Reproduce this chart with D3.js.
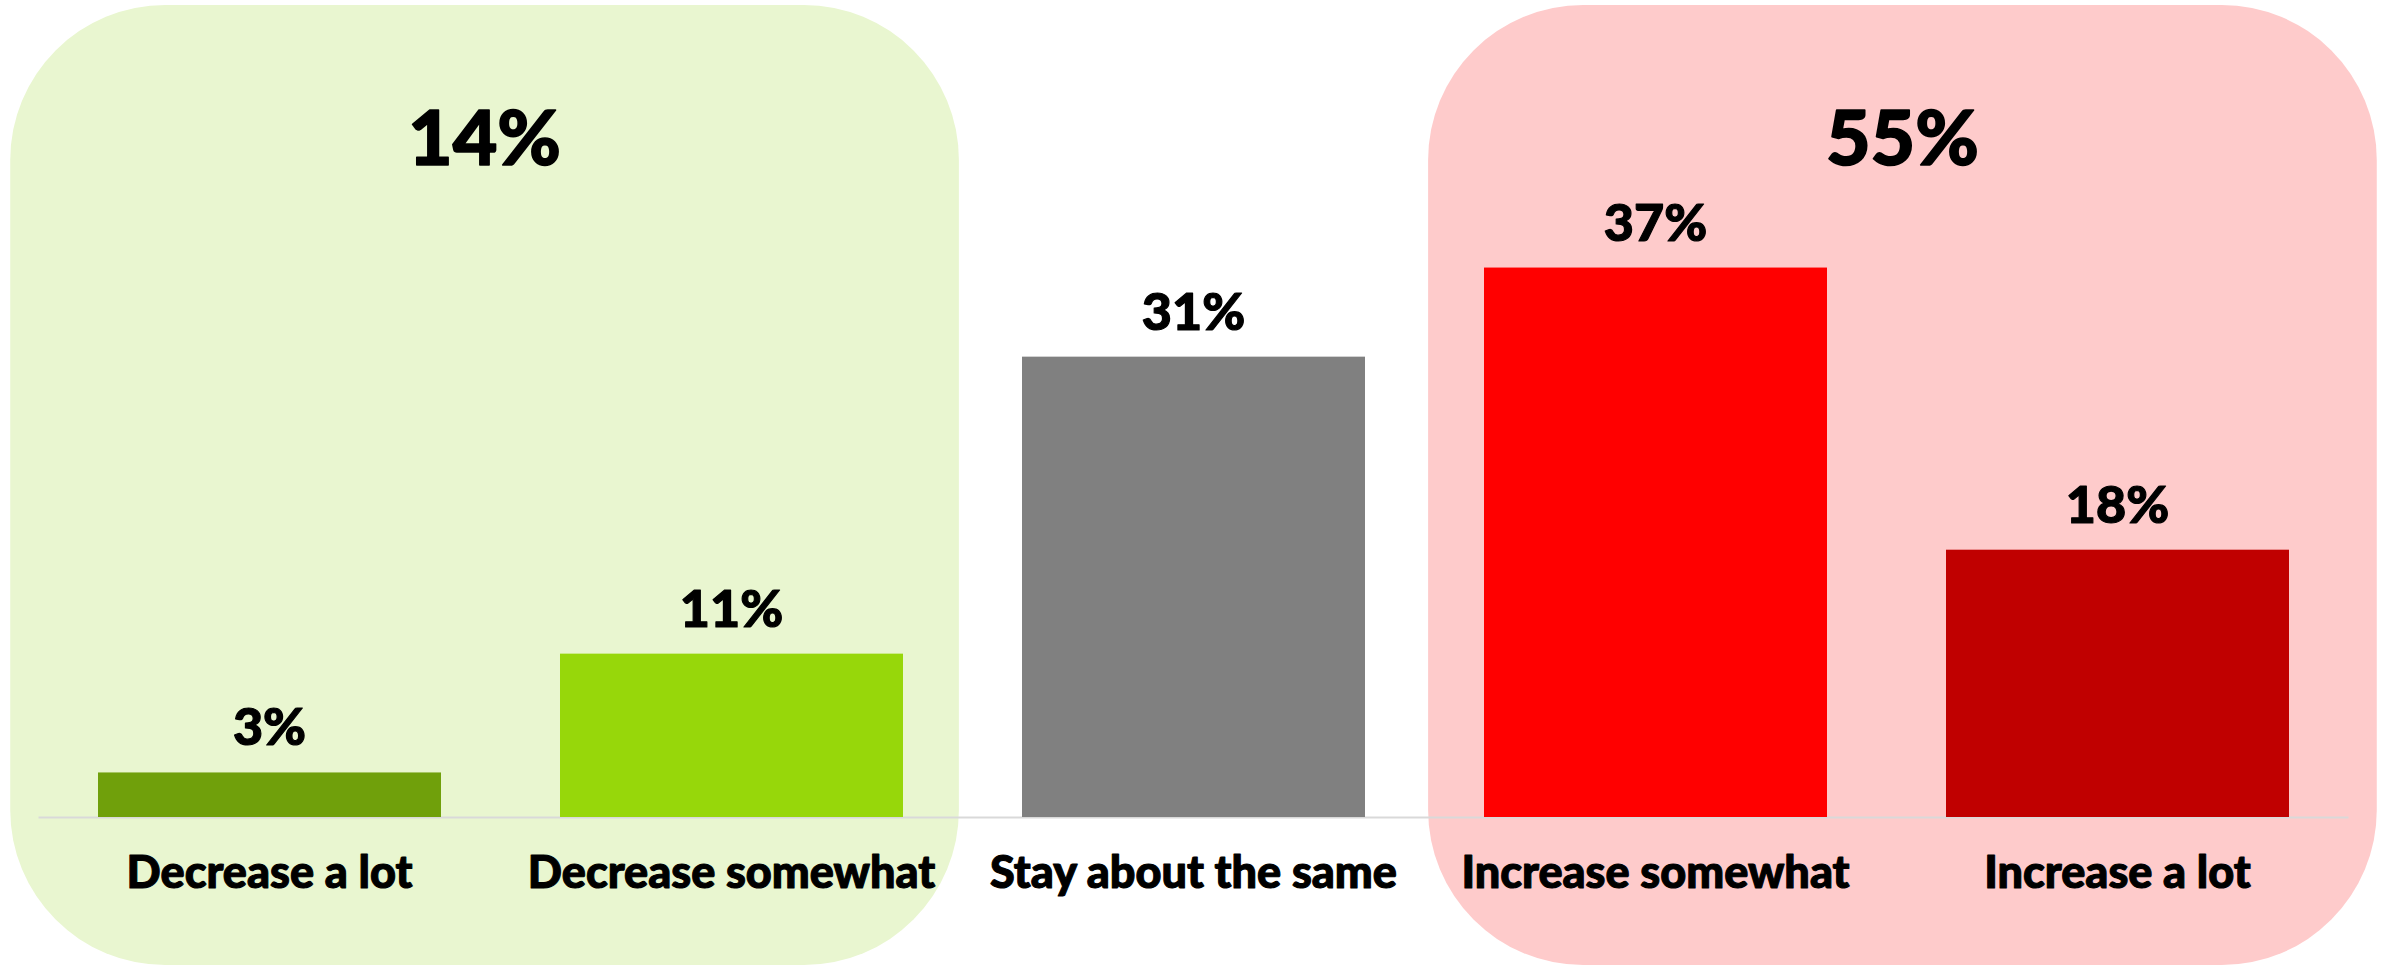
<!DOCTYPE html>
<html>
<head>
<meta charset="utf-8">
<script src="https://cdn.jsdelivr.net/npm/d3@7"></script>
<style>
  html, body { margin: 0; padding: 0; background: #ffffff; }
  svg { display: block; }
  text { font-family: "Lato", "Noto Sans", sans-serif; font-weight: 900; fill: #000000;
         stroke: #000000; stroke-linejoin: round; }
</style>
</head>
<body>
<svg id="chart"></svg>
<script>
// Responses, in display order
const categories = ["Decrease a lot", "Decrease somewhat", "Stay about the same", "Increase somewhat", "Increase a lot"];
const values = [3, 11, 31, 37, 18];
const barColors = ["#70A00B", "#97D70A", "#808080", "#FF0000", "#C00000"];

// Net groups highlighted behind the bars
const groupMembers = [[0, 1], [3, 4]];
const groupFills = ["#E9F6D0", "#FECBCB"];

const width = 2387, height = 967;
const baseline = 817;

const svg = d3.select("#chart").attr("width", width).attr("height", height);

const x = d3.scaleBand()
  .domain(categories)
  .range([38.5, 2348.5])
  .paddingInner(0.2576)
  .paddingOuter(0.1288);

const y = d3.scaleLinear()
  .domain([0, 40])
  .range([baseline, baseline - 594]);

const fmt = v => v + "%";
const step = x.step();
const outerPad = 0.19 * step;
const innerPad = 0.121 * step;
const boxTop = 5, boxBottom = 965, boxRadius = 155;

// Group backgrounds: outer side gets the wider margin
groupMembers.forEach((members, gi) => {
  const first = categories[members[0]];
  const last = categories[members[members.length - 1]];
  const leftSide = gi === 0;
  const x0 = x(first) - (leftSide ? outerPad : innerPad);
  const x1 = x(last) + x.bandwidth() + (leftSide ? innerPad : outerPad);
  svg.append("rect")
    .attr("x", x0).attr("y", boxTop)
    .attr("width", x1 - x0).attr("height", boxBottom - boxTop)
    .attr("rx", boxRadius).attr("ry", boxRadius)
    .attr("fill", groupFills[gi]);

  const total = d3.sum(members, i => values[i]);
  svg.append("text")
    .attr("x", (x0 + x1) / 2)
    .attr("y", 165)
    .attr("text-anchor", "middle")
    .attr("font-size", 77)
    .attr("stroke-width", 1.6)
    .text(fmt(total));
});

// Baseline
svg.append("line")
  .attr("x1", x.range()[0]).attr("x2", x.range()[1])
  .attr("y1", baseline + 0.5).attr("y2", baseline + 0.5)
  .attr("stroke", "#D9D9D9").attr("stroke-width", 2);

// Bars
svg.selectAll("rect.bar")
  .data(values)
  .join("rect")
  .attr("class", "bar")
  .attr("x", (d, i) => x(categories[i]))
  .attr("y", d => y(d))
  .attr("width", x.bandwidth())
  .attr("height", d => y(0) - y(d))
  .attr("fill", (d, i) => barColors[i]);

// Value labels
svg.selectAll("text.value")
  .data(values)
  .join("text")
  .attr("class", "value")
  .attr("x", (d, i) => x(categories[i]) + x.bandwidth() / 2)
  .attr("y", d => y(d) - 27)
  .attr("text-anchor", "middle")
  .attr("font-size", 52)
  .attr("stroke-width", 1.2)
  .text(fmt);

// Category axis labels
const axis = d3.axisBottom(x).tickSize(0).tickPadding(0);
const gAxis = svg.append("g")
  .attr("transform", `translate(0, ${baseline})`)
  .call(axis);
gAxis.select(".domain").remove();
gAxis.selectAll("text")
  .attr("y", 71)
  .attr("dy", 0)
  .attr("font-size", 45)
  .attr("fill", "#000000")
  .attr("stroke", "#000000")
  .attr("stroke-width", 1.1)
  .style("font-family", "Lato, 'Noto Sans', sans-serif")
  .style("font-weight", 900);
</script>
</body>
</html>
